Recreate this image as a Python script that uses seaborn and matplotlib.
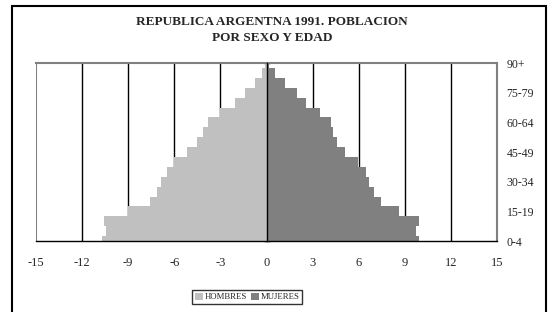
import numpy as np
import pandas as pd
import matplotlib
matplotlib.use('Agg')
import matplotlib.pyplot as plt
from matplotlib.patches import Rectangle
import seaborn as sns

edades = ['0-4', '5-9', '10-14', '15-19', '20-24', '25-29', '30-34', '35-39',
          '40-44', '45-49', '50-54', '55-59', '60-64', '65-69', '70-74',
          '75-79', '80-84', '85-89', '90+']
hombres = [10.7, 10.45, 10.6, 9.0, 7.6, 7.1, 6.85, 6.5, 6.05, 5.2,
           4.55, 4.1, 3.8, 3.0, 2.05, 1.4, 0.75, 0.3, 0.1]
mujeres = [9.9, 9.75, 9.9, 8.6, 7.45, 7.0, 6.65, 6.5, 5.95, 5.1,
           4.6, 4.3, 4.2, 3.5, 2.6, 2.0, 1.2, 0.55, 0.15]

pos = np.arange(len(edades))
df = pd.DataFrame({'pos': np.concatenate([pos, pos]),
                   'valor': np.concatenate([-np.array(hombres), np.array(mujeres)]),
                   'sexo': ['HOMBRES'] * len(edades) + ['MUJERES'] * len(edades)})

sns.set_style('white')
plt.rcParams['font.family'] = ['Liberation Serif', 'DejaVu Serif']

fig = plt.figure(figsize=(5.48, 3.12), dpi=100)
ax = fig.add_axes([36 / 548, 1 - 241 / 312, (497 - 36) / 548, (241 - 63) / 312])

sns.barplot(data=df, x='valor', y='pos', hue='sexo', orient='y', native_scale=True,
            dodge=False, width=1.0, palette=['#C0C0C0', '#808080'],
            edgecolor='none', linewidth=0, ax=ax, zorder=1)

ax.set_xlim(-15, 15)
ax.set_ylim(0, 18)
for xv in [-12, -9, -6, -3, 3, 6, 9, 12]:
    ax.axvline(xv, color='black', lw=1, zorder=0)

ax.set_xticks(np.arange(-15, 16, 3))
ax.set_xticklabels([str(v) for v in range(-15, 16, 3)], fontsize=9)
ax.tick_params(axis='x', direction='inout', length=5, width=1, color='black', pad=9)
ax.set_xlabel('')
ax.set_ylabel('')

ax.spines['left'].set_position(('data', 0))
ax.spines['left'].set_color('black')
ax.spines['left'].set_zorder(3)
ax.spines['bottom'].set_color('black')
ax.spines['top'].set_color('#808080')
ax.spines['right'].set_color('#808080')
ax.axvline(-15, color='#808080', lw=1.5)
for s in ax.spines.values():
    s.set_linewidth(1)
ax.spines['top'].set_linewidth(1.5)
ax.spines['right'].set_linewidth(1.5)
ax.set_yticks(pos)
ax.set_yticklabels([])
ax.tick_params(axis='y', direction='inout', length=5, width=1, color='black', left=True)

ax2 = ax.twinx()
ax2.set_ylim(0, 18)
ax2.set_yticks(pos[::3])
ax2.set_yticklabels(edades[::3], fontsize=8.5)
ax2.tick_params(axis='y', length=0, pad=7)
for s in ax2.spines.values():
    s.set_visible(False)

leg = ax.legend(loc='center', bbox_to_anchor=(247 / 548, 1 - 297 / 312),
                bbox_transform=fig.transFigure, ncol=2, fontsize=6.3, frameon=True,
                handlelength=0.9, handleheight=0.9, handletextpad=0.2,
                columnspacing=0.5, borderpad=0.35, fancybox=False)
leg.get_frame().set_edgecolor('black')
leg.get_frame().set_linewidth(1)

fig.text(272 / 548, 1 - 22 / 312, 'REPUBLICA ARGENTNA 1991. POBLACION',
         ha='center', va='center', fontsize=9.5, fontweight='bold')
fig.text(272 / 548, 1 - 38 / 312, 'POR SEXO Y EDAD',
         ha='center', va='center', fontsize=9.5, fontweight='bold')

fig.add_artist(Rectangle((12 / 548, -0.05), (546 - 12) / 548, 1 - 6 / 312 + 0.05,
                         transform=fig.transFigure, fill=False,
                         edgecolor='black', lw=1.5))

fig.savefig('out.png', dpi=100)
